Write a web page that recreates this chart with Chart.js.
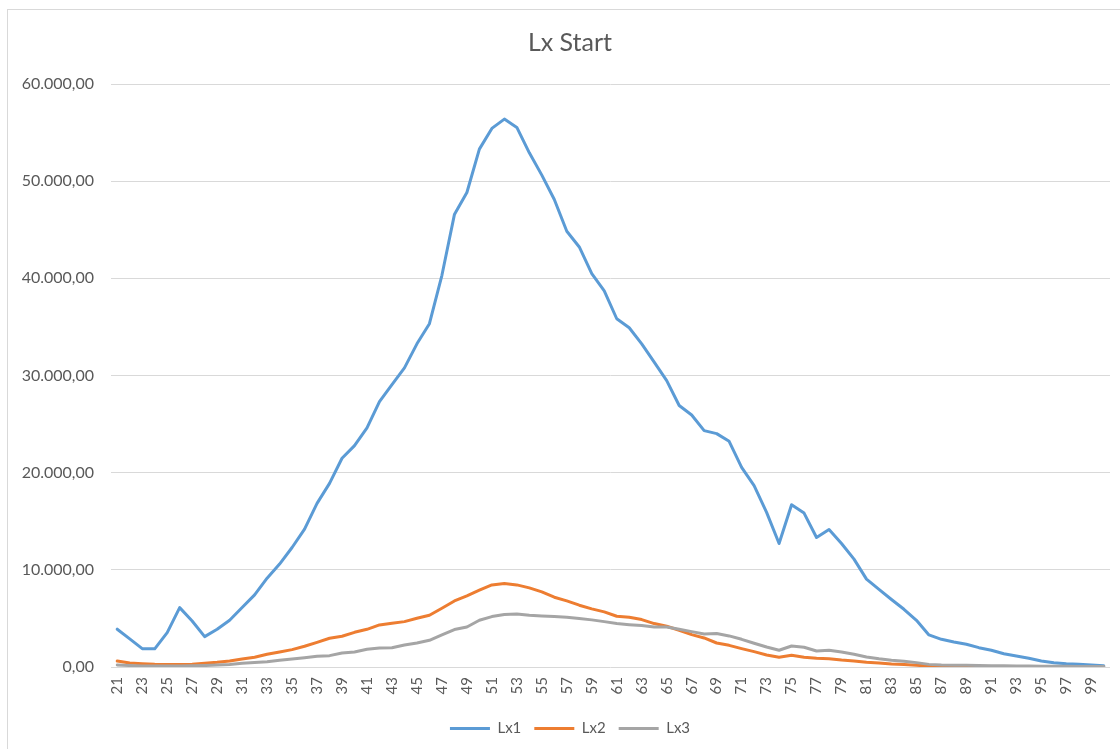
<!DOCTYPE html>
<html>
<head>
<meta charset="utf-8">
<title>Lx Start</title>
<script src="https://cdn.jsdelivr.net/npm/chart.js@4"></script>
<style>
  html, body { margin: 0; padding: 0; background: #ffffff; overflow: hidden; }
  #frame {
    position: absolute; left: 7px; top: 9px; width: 1140px; height: 760px;
    border-left: 1px solid #d9d9d9; border-top: 1px solid #d9d9d9;
  }
  #wrap { position: absolute; left: 0; top: 0; width: 1120px; height: 749px; overflow: hidden; }
</style>
</head>
<body>
<div id="frame"></div>
<div id="wrap"><canvas id="chart" width="1140" height="749"></canvas></div>
<script>
// Ages 21 .. 100
const ages = [];
for (let a = 21; a <= 100; a++) ages.push(String(a));

const lx1 = [
  3890, 2900, 1890, 1870, 3540, 6110, 4740, 3130, 3880, 4810,
  6120, 7420, 9140, 10590, 12300, 14190, 16840, 18900, 21480, 22780,
  24600, 27320, 29070, 30790, 33260, 35330, 40310, 46560, 48830, 53300,
  55430, 56390, 55530, 52920, 50620, 48110, 44850, 43230, 40480, 38700,
  35840, 34910, 33260, 31370, 29480, 26910, 25940, 24330, 24020, 23230,
  20550, 18660, 15910, 12710, 16700, 15840, 13330, 14150, 12710, 11100,
  9040, 7980, 6950, 5940, 4810, 3300, 2850, 2580, 2340, 1990,
  1720, 1370, 1130, 900, 620, 440, 340, 280, 200, 130
];

const lx2 = [
  620, 410, 340, 290, 270, 260, 280, 380, 480, 620,
  820, 1000, 1310, 1550, 1790, 2130, 2540, 2960, 3160, 3570,
  3880, 4330, 4500, 4670, 5020, 5330, 6050, 6800, 7320, 7900,
  8450, 8590, 8450, 8140, 7730, 7180, 6800, 6360, 5980, 5670,
  5220, 5120, 4880, 4470, 4190, 3780, 3330, 2990, 2470, 2230,
  1890, 1580, 1240, 1000, 1200, 1000, 890, 860, 720, 620,
  480, 410, 310, 250, 170, 110, 80, 60, 50, 40,
  30, 30, 20, 20, 10, 10, 10, 0, 0, 0
];

const lx3 = [
  210, 150, 110, 100, 100, 110, 120, 150, 200, 260,
  380, 460, 550, 690, 820, 960, 1100, 1170, 1440, 1550,
  1820, 1960, 1990, 2270, 2470, 2750, 3300, 3850, 4120, 4810,
  5190, 5400, 5460, 5330, 5260, 5190, 5120, 4980, 4850, 4670,
  4470, 4360, 4260, 4120, 4120, 3880, 3640, 3400, 3440, 3200,
  2850, 2440, 2060, 1720, 2160, 2030, 1650, 1720, 1550, 1310,
  1030, 850, 700, 590, 450, 270, 210, 190, 170, 150,
  130, 120, 110, 100, 90, 80, 70, 60, 50, 40
];

const seriesNames = ['Lx1', 'Lx2', 'Lx3'];
const seriesColors = ['#5b9bd5', '#ed7d31', '#a5a5a5'];

// 60000 -> "60.000,00"
function formatDe(v) {
  const neg = v < 0;
  const s = Math.abs(Math.round(v)).toString().replace(/\B(?=(\d{3})+(?!\d))/g, '.');
  return (neg ? '-' : '') + s + ',00';
}

const textColor = '#595959';
const fontFamily = 'Lato, "Open Sans", sans-serif';

const makeSet = (i, values) => ({
  label: seriesNames[i],
  data: values,
  borderColor: seriesColors[i],
  backgroundColor: seriesColors[i],
  borderWidth: 3,
  pointRadius: 0,
  pointHoverRadius: 0,
  tension: 0,
  borderJoinStyle: 'round',
  borderCapStyle: 'round',
  fill: false,
  order: 2 - i
});

new Chart(document.getElementById('chart'), {
  type: 'line',
  data: {
    labels: ages,
    datasets: [makeSet(0, lx1), makeSet(1, lx2), makeSet(2, lx3)]
  },
  options: {
    responsive: false,
    animation: false,
    layout: { padding: { left: 0, right: 0, top: 0, bottom: 3 } },
    plugins: {
      title: {
        display: true,
        text: 'Lx Start',
        color: textColor,
        font: { family: fontFamily, size: 25, weight: 'normal' },
        padding: { top: 28, bottom: 26 }
      },
      legend: {
        position: 'bottom',
        labels: {
          usePointStyle: true,
          pointStyle: 'line',
          pointStyleWidth: 40,
          color: textColor,
          font: { family: fontFamily, size: 15 },
          padding: 13,
          sort: (a, b) => a.datasetIndex - b.datasetIndex
        }
      },
      tooltip: { enabled: false }
    },
    scales: {
      x: {
        offset: true,
        grid: { display: false, drawTicks: false },
        border: { display: false },
        ticks: {
          autoSkip: false,
          maxRotation: 90,
          minRotation: 90,
          padding: 10,
          color: textColor,
          font: { family: fontFamily, size: 15 },
          callback: function (val, idx) { return idx % 2 === 0 ? this.getLabelForValue(val) : ''; }
        },
        afterFit: (s) => { s.height = 41; }
      },
      y: {
        min: 0,
        max: 60000,
        grid: { color: '#d9d9d9', lineWidth: 1, drawTicks: false },
        border: { display: false },
        ticks: {
          stepSize: 10000,
          padding: 17,
          color: textColor,
          font: { family: fontFamily, size: 16 },
          callback: (v) => formatDe(v)
        },
        afterFit: (s) => { s.width = 111; }
      },
      // empty right-hand margin of the plot frame
      yRight: {
        position: 'right',
        display: true,
        grid: { display: false, drawTicks: false },
        border: { display: false },
        ticks: { display: false },
        afterFit: (s) => { s.width = 30; }
      }
    }
  }
});
</script>
</body>
</html>
